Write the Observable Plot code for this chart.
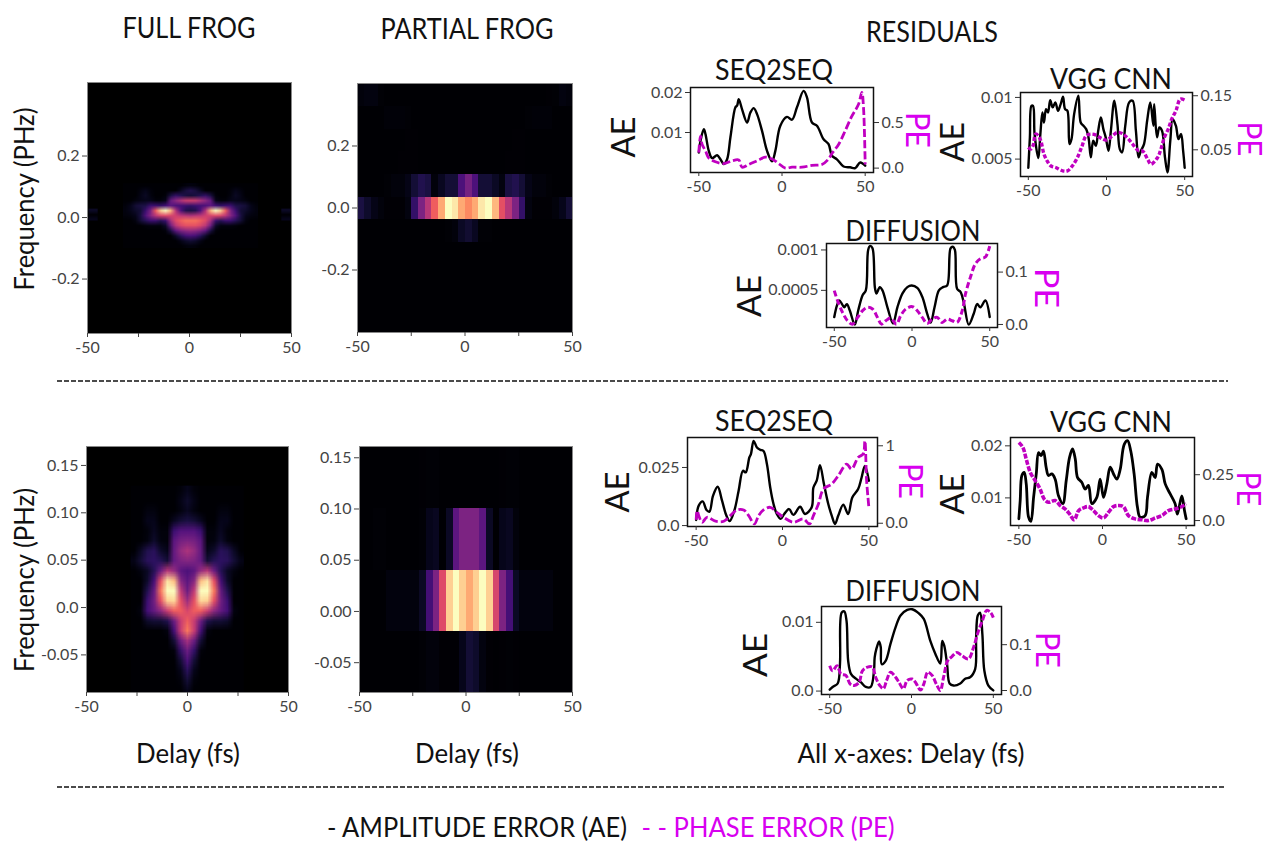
<!DOCTYPE html>
<html><head><meta charset="utf-8">
<style>html,body{margin:0;padding:0;background:#fff;width:1273px;height:844px;overflow:hidden}
#page{position:relative;width:1273px;height:844px}
#page>div,#page>svg{position:absolute}
</style>
<script src="https://cdn.jsdelivr.net/npm/d3@7"></script>
<script src="https://cdn.jsdelivr.net/npm/@observablehq/plot@0.6"></script>
</head><body><div id="page"></div>
<script>
// ---------- heat map grids (intensity 0..1, read row by row, top row first) ----------
const fullTopGrid = [
0,0,0,0,0,0,0,0,0,0,0,0,.02,.03,.02,0,0,0,0,0,0,0,0,0,0,0,0,
0,0,0,.03,.05,.02,0,0,0,0,0,.06,.11,.14,.11,.06,0,0,0,0,0,.02,.05,.03,0,0,0,
0,0,0,.04,.07,.03,0,0,.02,.12,.18,.15,.12,.1,.12,.15,.18,.12,.02,0,0,.03,.07,.04,0,0,0,
0,0,.03,.04,.05,.05,.02,.02,.05,.3,.4,.48,.55,.56,.55,.48,.4,.3,.05,.02,.02,.05,.05,.04,.03,0,0,
.02,.05,.1,.12,.13,.2,.2,.18,.22,.28,.24,.22,.2,.18,.2,.22,.24,.28,.22,.18,.2,.2,.13,.12,.1,.05,.02,
.03,.05,.08,.1,.2,.36,.66,.9,1,.85,.5,.25,.14,.12,.14,.25,.5,.85,1,.9,.66,.36,.2,.1,.08,.05,.03,
.02,.03,.05,.12,.25,.38,.5,.58,.6,.58,.56,.52,.5,.48,.5,.52,.56,.58,.6,.58,.5,.38,.25,.12,.05,.03,.02,
0,0,.03,.1,.15,.2,.2,.15,.2,.45,.6,.66,.7,.7,.7,.66,.6,.45,.2,.15,.2,.2,.15,.1,.03,0,0,
0,0,0,0,.02,.03,.03,.03,.08,.32,.5,.58,.62,.62,.62,.58,.5,.32,.08,.03,.03,.03,.02,0,0,0,0,
0,0,0,0,0,0,0,0,.02,.12,.28,.36,.4,.42,.4,.36,.28,.12,.02,0,0,0,0,0,0,0,0,
0,0,0,0,0,0,0,0,0,0,.08,.16,.22,.24,.22,.16,.08,0,0,0,0,0,0,0,0,0,0,
0,0,0,0,0,0,0,0,0,0,0,.04,.08,.1,.08,.04,0,0,0,0,0,0,0,0,0,0,0,
0,0,0,0,0,0,0,0,0,0,0,0,.02,.03,.02,0,0,0,0,0,0,0,0,0,0,0,0];
const fringeGrid = [.07,.07,0,0,.05,.05];
const partialTopGrid = [
.02,.03,.03,.01,0,0,0,0,0,0,0,0,0,0,0,0,0,0,0,0,0,0,0,0,0,0,0,0,.005,.01,.03,.02,
0,0,0,0,.015,.015,.015,.01,0,0,0,0,0,0,0,0,0,0,0,0,0,0,0,0,0,.01,.015,.015,.015,0,0,0,
0,0,0,0,0,0,0,.005,.005,0,0,0,0,0,0,0,0,0,0,0,0,0,0,.005,.005,0,0,0,0,0,0,0,
0,0,0,0,0,0,.005,.005,.005,0,0,0,0,0,0,0,0,0,0,0,0,0,.005,.005,.005,0,0,0,0,0,0,0,
0,0,0,0,.01,.02,.02,.04,.1,.14,.12,.02,.06,.1,.1,.24,.34,.24,.1,.1,.07,.03,.12,.14,.1,.04,.02,.02,.01,0,0,0,
.12,.08,.04,.02,.005,.005,.005,.03,.18,.36,.5,.66,.82,1,.95,.82,.75,.82,.95,1,.85,.62,.5,.36,.18,.03,.005,.005,.005,.02,.05,.1,
0,0,0,0,0,0,0,0,0,0,0,0,0,.01,.02,.07,.09,.06,.01,.01,0,0,0,0,0,0,0,0,0,0,0,0,
0,0,0,0,0,0,0,0,0,0,0,0,0,0,0,0,0,0,0,0,0,0,0,0,0,0,0,0,0,0,0,0,
0,0,0,0,0,0,0,0,0,0,0,0,0,0,0,0,0,0,0,0,0,0,0,0,0,0,0,0,0,0,0,0,
0,0,0,0,0,0,0,0,0,0,0,0,0,0,0,0,0,0,0,0,0,0,0,0,0,0,0,0,0,0,0,0,
0,0,0,0,0,0,0,0,0,0,0,0,0,0,0,0,0,0,0,0,0,0,0,0,0,0,0,0,0,0,0,0];
const fullBottomGrid = [
0,0,0,0,0,0,0,.02,.05,.02,0,0,0,0,0,0,0,
0,0,0,0,0,0,0,.04,.08,.04,0,0,0,0,0,0,0,
0,0,.03,.03,0,0,0,.03,.06,.03,0,0,0,.03,.03,0,0,
0,0,.05,.05,0,0,.06,.1,.12,.1,.06,0,0,.05,.05,0,0,
0,0,.02,.06,.02,.02,.2,.26,.26,.26,.2,.02,.02,.06,.02,0,0,
0,0,.03,.08,.03,.02,.28,.34,.36,.34,.28,.02,.03,.08,.03,0,0,
0,.07,.14,.16,.08,.05,.3,.42,.48,.42,.3,.05,.08,.16,.14,.07,0,
.04,.1,.16,.17,.15,.1,.3,.36,.38,.36,.3,.1,.15,.17,.16,.1,.04,
0,.03,.07,.15,.32,.5,.42,.28,.24,.28,.42,.5,.32,.15,.07,.03,0,
0,0,.08,.22,.62,.94,.86,.38,.28,.38,.86,.94,.62,.22,.08,0,0,
0,0,.14,.3,.72,1,1,.52,.32,.52,1,1,.72,.3,.14,0,0,
0,0,.2,.33,.62,.9,.92,.62,.44,.62,.92,.9,.62,.33,.2,0,0,
0,.03,.22,.3,.4,.55,.66,.66,.58,.66,.66,.55,.4,.3,.22,.03,0,
0,0,.08,.1,.1,.14,.32,.54,.66,.54,.32,.14,.1,.1,.08,0,0,
0,0,0,0,0,.03,.22,.54,.72,.54,.22,.03,0,0,0,0,0,
0,0,0,0,0,0,.1,.32,.46,.32,.1,0,0,0,0,0,0,
0,0,0,0,0,0,.02,.18,.32,.18,.02,0,0,0,0,0,0,
0,0,0,0,0,0,0,.1,.24,.1,0,0,0,0,0,0,0,
0,0,0,0,0,0,0,.05,.16,.05,0,0,0,0,0,0,0,
0,0,0,0,0,0,0,.02,.1,.02,0,0,0,0,0,0,0,
0,0,0,0,0,0,0,0,.05,0,0,0,0,0,0,0,0];
const partialBottomGrid = [
0,0,0,0,0,0,0,0,0,.005,.01,.01,0,0,0,0,0,0,0,0,0,.005,.01,.01,0,0,0,0,0,0,0,0,
0,0,.01,.01,0,0,0,0,0,.01,.05,.06,0,.07,.28,.36,.36,.36,.28,.07,0,.05,.06,.02,0,0,0,0,0,0,0,0,
0,0,0,0,.025,.025,.025,.025,.025,.07,.22,.36,.6,.9,1,.9,.82,.9,1,.9,.58,.36,.22,.07,.025,.025,.025,.025,.025,0,0,0,
0,0,0,0,0,0,0,0,0,.01,.02,.02,.005,.005,.005,.05,.1,.08,.03,.005,0,.005,.01,.005,0,0,0,0,0,0,0,0];

// ---------- residual curves: [SEQ2SEQ, VGG CNN, DIFFUSION] × [upper, lower] ----------
const seqTopAeX=[-50,-49,-47,-46,-44,-42,-39,-37,-35,-33,-31,-28,-27,-26,-24,-21,-19,-17,-15,-12,-9,-6,-4,-1,3,6,9,13,15,18,21,25,28,30,33,37,41,44,47,50];
const seqTopAe=[.005,.0079,.0108,.0096,.0054,.0036,.0043,.0033,.0021,.0033,.0088,.0163,.0167,.0183,.0158,.0125,.015,.0161,.0146,.0104,.0054,.0028,.0054,.0117,.0139,.0132,.0163,.0204,.0188,.0125,.0117,.0083,.0071,.0042,.0033,.0015,.0013,.0011,.0025,.0017];
const seqTopPeX=[-50,-49,-48,-46,-44,-40,-35,-30,-26,-24,-20,-15,-10,-6,-2,2,6,12,18,24,28,30,34,38,42,46,48,49,50];
const seqTopPe=[.17,.35,.26,.19,.11,.07,.05,.08,.09,.01,.04,.08,.12,.1,.05,0,.01,.01,.03,.04,.1,.16,.26,.41,.57,.7,.83,.66,.04];
const vggTopAeX=[-50,-49,-48,-47,-46,-43.6,-42.3,-41,-40,-38.7,-37.4,-36,-34.4,-32.7,-31,-29.3,-27.8,-26.5,-25,-23.7,-22.4,-20.7,-18,-16.5,-14.7,-13,-11.5,-10,-8.5,-6.8,-5.3,-3.6,-2,-.5,1.3,2.8,5,7,8.5,10,12,14.5,16.7,18.8,20.5,22,24,26,28,30,30.5,32.3,33.8,35.5,37.4,39,40.8,42.3,44.4,46,47.7,49,50];
const vggTopAe=[.0043,.00676,.00932,.00932,.00703,.00508,.00703,.00878,.00797,.00905,.00878,.00978,.00919,.0096,.00892,.00946,.01005,.00905,.00892,.00622,.00662,.00865,.01014,.00797,.0077,.00743,.00676,.00514,.00649,.00608,.0073,.00838,.00743,.00676,.00568,.0073,.00973,.00784,.00581,.00554,.0077,.0096,.00973,.0073,.00514,.00568,.00622,.00811,.0096,.0077,.00946,.00676,.00757,.0073,.00514,.00392,.00649,.00824,.0077,.00662,.00703,.00568,.0043];
const vggTopPeX=[-50,-48.5,-47,-45.3,-43.6,-42,-40,-38,-35.7,-32.5,-28,-25,-21.8,-18.6,-15.8,-13,-10,-6.8,-3.6,0,3.8,7,10,13.5,16.7,20,23,26.3,28.4,32.7,34.8,37,39.5,41.7,44.4,47.2,50];
const vggTopPe=[.0543,.0512,.0574,.079,.0759,.0667,.042,.0296,.0204,.0173,.0111,.0111,.0204,.0358,.0556,.0759,.079,.0772,.0716,.0679,.0759,.0821,.0802,.0716,.0605,.0494,.0481,.0327,.0235,.0358,.0512,.0728,.0883,.1068,.1222,.1438,.142];
const difTopAeX=[-50,-48.3,-46.8,-45,-43.6,-41.9,-40,-36.8,-34.6,-31.8,-29.7,-28.2,-26.9,-25.4,-23.9,-22.9,-20.7,-19,-15.8,-12.2,-9.4,-6.2,-3,-.2,3.4,6.6,9.8,12,14.5,17.3,19.9,22.6,24.8,26.3,27.6,29,31.2,33.3,36.5,39.7,41.9,44,47.2,50];
const difTopAe=[.00017,.00031,.000375,.00033,.00029,.00033,.00025,.000075,.00025,.00044,.0005,.001,.00105,.00102,.00054,.00046,.00054,.0005,.00029,.00009,.00029,.00046,.00054,.00056,.00053,.00042,.00021,.0001,.00029,.0005,.00054,.00056,.00102,.00104,.001,.00052,.00048,.00035,.000075,.00021,.00033,.00029,.000375,.00017];
const difTopPeX=[-50,-47.9,-44.7,-41.5,-38.2,-35,-31.8,-28.6,-25.4,-22.2,-19.7,-16.9,-13.7,-10,-7.3,-4,.2,3.4,6.6,9.8,13,16.2,19.4,22.6,25.9,29,32.3,34.4,37.6,40.8,44,47.2,50];
const difTopPe=[.0647,.0455,.0231,.0071,.0006,.0135,.0263,.0327,.0295,.0135,.0006,.0071,.0122,.0006,.0167,.0295,.034,.0263,.0135,.0019,.0103,.0135,.0038,.0103,.0071,.0038,.0263,.0583,.0904,.116,.1256,.1288,.1494];
const seqBotAeX=[-50,-48.5,-46.2,-44,-42.3,-40.2,-37.5,-35,-32.5,-30.6,-27.9,-25.4,-22.9,-21.3,-19.2,-18.3,-16.7,-14.8,-12.9,-11,-9,-7.1,-5.2,-3.3,-1,1,3.8,6.3,10.2,13,16.9,17.9,19.8,21.7,24,26.5,28.5,30.4,32.3,35.2,38,40.4,43.8,45.8,47.7,50];
const seqBotAe=[.0024,.0086,.0104,.0067,.006,.0129,.0167,.0107,.0043,.0019,.0064,.015,.0236,.0229,.0293,.0307,.0364,.0336,.0326,.0321,.0264,.0164,.0093,.005,.0029,.005,.0071,.0046,.0081,.005,.0079,.0164,.0193,.026,.0179,.0093,.0043,.0007,.0043,.009,.005,.0121,.0157,.0207,.0257,.0193];
const seqBotPeX=[-50,-49.4,-48.5,-46.5,-43.7,-38.8,-34,-30.2,-26.3,-22.5,-19.6,-16.3,-13.8,-11,-7.1,-3.3,.6,6.3,12.1,15.6,17.9,20.8,23.7,28.5,32.3,37.1,40,43.8,46.7,47.7,48.7,50];
const seqBotPe=[.043,.163,.099,.013,.077,.026,.026,.099,.172,.172,.099,-.009,.099,.172,.206,.142,.077,.013,.056,-.009,.099,.249,.442,.506,.614,.764,.7,.85,.893,1.064,.549,.206];
const vggBotAeX=[-50,-49.2,-48.2,-46.8,-45.6,-44.2,-42.8,-41.2,-39.6,-38.2,-36.7,-35.3,-33.7,-32.3,-30.3,-28.3,-26.3,-23.7,-21.7,-19.7,-17.9,-16.3,-14.9,-12.4,-10.4,-8.4,-6.4,-3.4,-1.4,.6,2.6,4.6,6.6,8.6,10.6,13,15,16.9,18.9,20.9,22.5,25.5,26.9,29.5,31.5,32.9,35.5,37.5,40.4,43.4,44.8,47.4,49,50];
const vggBotAe=[.006,.0095,.0143,.0149,.0127,.0063,.0055,.0101,.0146,.0187,.0181,.019,.0159,.0143,.0146,.0136,.0104,.0089,.0133,.0178,.0194,.0175,.0139,.013,.0117,.0124,.0089,.0101,.0136,.0101,.0127,.0159,.0146,.0136,.0155,.0203,.021,.019,.0146,.0082,.0063,.0066,.0101,.0149,.0139,.0165,.0155,.0127,.0108,.0089,.0069,.0104,.0076,.006];
const vggBotPeX=[-50,-47.6,-45.6,-43.2,-40.2,-37.3,-34.9,-32.3,-28.3,-25.3,-22.3,-19.7,-16.9,-14.3,-11.4,-8.4,-5.4,-2.4,.6,3.6,6.6,9.6,12.5,15.5,19.5,23.5,27.5,31.5,35.5,39.4,43.4,46.4,50];
const vggBotPe=[.426,.399,.335,.263,.217,.172,.118,.1,.109,.082,.063,.036,.004,.054,.069,.076,.054,.027,.014,.045,.076,.082,.076,.027,.009,.004,0,.014,.027,.054,.063,.072,.091];
const difBotAeX=[-50,-48.2,-45.1,-43.7,-42.7,-41.1,-39.7,-38.7,-37,-34,-31,-27.9,-24.9,-22.9,-22.5,-21.5,-19.8,-18.8,-18.2,-15.8,-12.8,-9.7,-6.7,-2.6,.4,4.5,7.5,11.5,14.6,17.6,18.8,20,21.7,23.3,25.7,29.8,32.8,35.8,38.9,39.5,40.5,41.9,43.3,44.5,47,50];
const difBotAe=[.0002,.0006,.0011,.004,.0114,.0116,.0102,.0044,.0025,.0018,.0013,.0006,.0006,.003,.0049,.0061,.0072,.0064,.0039,.0044,.0069,.0093,.011,.0118,.0119,.0113,.0105,.0073,.0054,.004,.0073,.0066,.004,.0011,.0008,.0011,.0018,.002,.0032,.0078,.011,.0114,.0083,.003,.0008,.0001];
const difBotPeX=[-50,-48.2,-45.5,-43.1,-40.1,-37.4,-35,-32,-30,-26.9,-23.9,-21.9,-19.4,-17.2,-15.2,-12.8,-9.7,-7.7,-5,-2.6,.4,2.4,5.5,7.5,9.9,12.6,15.2,17.6,19.6,22.1,24.7,27.7,30.8,34.8,37.9,40.9,43.3,46,48.4,50];
const difBotPe=[.054,.043,.054,.036,.033,.014,.011,.018,.043,.051,.051,.029,.011,.004,.022,.04,.029,.018,.004,.022,.025,.018,.001,.014,.04,.033,.014,0,.029,.065,.074,.083,.076,.069,.094,.13,.152,.175,.17,.159];

const AE_COLOR="#000", PE_COLOR="#c000c0", LABEL_PE="#d800f0", TICK="#444", FONT="Lato";
const page=document.getElementById("page");
function mount(plot,left,top){const d=document.createElement("div");d.style.left=left+"px";d.style.top=top+"px";d.appendChild(plot);page.appendChild(d);}
const hy=v=>String(v).replace("\u2212","-");

function heatPanel(p){
  const ml=52,mr=22,mt=12,mb=30;
  const raster=(grid,cols,rows,x1,x2,y1,y2,smooth)=>Plot.raster(grid,{fill:d=>d,width:cols,height:rows,x1,x2,y1,y2,clip:true,imageRendering:smooth?"auto":"pixelated"});
  const plot=Plot.plot({
    width:p.w+ml+mr,height:p.h+mt+mb,marginLeft:ml,marginRight:mr,marginTop:mt,marginBottom:mb,
    style:{fontFamily:FONT,fontSize:"16px",color:TICK,background:"transparent",maxWidth:"none"},
    x:{domain:[-50,50]},y:{domain:p.y},
    color:{type:"linear",scheme:"magma",domain:[0,1]},
    marks:[
      Plot.frame({fill:"#000",stroke:"none"}),
      raster(p.grid,p.cols,p.rows,p.x1,p.x2,p.y1,p.y2,p.smooth),
      p.fringe?raster(fringeGrid,2,3,-49.5,-45,.029,-.0098,true):null,
      p.fringe?raster(fringeGrid,2,3,45,49.5,.029,-.0098,true):null,
      Plot.frame({stroke:"#888",strokeWidth:1}),
      Plot.axisX({ticks:[-50,-25,0,25,50],tickFormat:d=>Math.abs(d)===25?"":hy(d),tickSize:4,tickPadding:4,label:null}),
      Plot.axisY({ticks:p.yTicks,tickFormat:(d,i)=>p.yLabels[i],tickSize:5,tickPadding:3,label:null})
    ]});
  mount(plot,p.left-ml,p.top-mt);
}
const topFreqTicks=[-.2,0,.2], topFreqLabels=["-0.2","0.0","0.2"];
const botFreqTicks=[-.05,0,.05,.1,.15];
heatPanel({left:87,top:82,w:204,h:251,y:[-.377,.439],yTicks:topFreqTicks,yLabels:topFreqLabels,grid:fullTopGrid,cols:27,rows:13,x1:-32.6,x2:33.6,y1:.1122,y2:-.0992,smooth:true,fringe:true});
heatPanel({left:357,top:83,w:215,h:249,y:[-.4016,.4016],yTicks:topFreqTicks,yLabels:topFreqLabels,grid:partialTopGrid,cols:32,rows:11,x1:-50,x2:50,y1:.4016,y2:-.4016});
heatPanel({left:86,top:446,w:202,h:246,y:[-.0897,.17],yTicks:botFreqTicks,yLabels:["-0.05","0.0","0.05","0.10","0.15"],grid:fullBottomGrid,cols:17,rows:21,x1:-28.2,x2:27.9,y1:.1287,y2:-.0928,smooth:true});
heatPanel({left:359,top:446,w:213,h:246,y:[-.0791,.161],yTicks:botFreqTicks,yLabels:["-0.05","0.00","0.05","0.10","0.15"],grid:partialBottomGrid,cols:32,rows:4,x1:-50,x2:50,y1:.161,y2:-.0791});

function linePanel(p){
  const ml=62,mr=62,mt=12,mb=30;
  const base={width:p.w+ml+mr,height:p.h+mt+mb,marginLeft:ml,marginRight:mr,marginTop:mt,marginBottom:mb,
    style:{fontFamily:FONT,fontSize:"16px",color:TICK,background:"transparent",maxWidth:"none"}};
  const ae=Plot.plot({...base,x:{domain:[-55,55]},y:{domain:p.aeDomain},marks:[
    Plot.line(p.aeX.map((x,i)=>({x,y:p.ae[i]})),{x:"x",y:"y",stroke:AE_COLOR,strokeWidth:p.aeWidth||2.4,curve:"catmull-rom",clip:true}),
    Plot.frame({stroke:"#111",strokeWidth:1.5}),
    Plot.axisX({ticks:[-50,0,50],tickFormat:hy,tickSize:4,tickPadding:4,label:null,stroke:"#333"}),
    Plot.axisY({ticks:p.aeTicks,tickFormat:(d,i)=>p.aeLabels[i],tickSize:5,tickPadding:3,label:null,stroke:"#333"})
  ]});
  const pe=Plot.plot({...base,x:{domain:[-55,55],axis:null},y:{domain:p.peDomain},marks:[
    Plot.line(p.peX.map((x,i)=>({x,y:p.pe[i]})),{x:"x",y:"y",stroke:PE_COLOR,strokeWidth:p.peWidth||2.8,strokeDasharray:p.dash||"8,3",strokeLinecap:"butt",curve:"catmull-rom",clip:true}),
    Plot.axisY({anchor:"right",ticks:p.peTicks,tickFormat:(d,i)=>p.peLabels[i],tickSize:5,tickPadding:3,label:null,stroke:"#333"})
  ]});
  mount(ae,p.left-ml,p.top-mt);mount(pe,p.left-ml,p.top-mt);
}
linePanel({left:690,top:87,w:183,h:85,aeDomain:[0,.02125],peDomain:[-.048,.884],aeX:seqTopAeX,ae:seqTopAe,peX:seqTopPeX,pe:seqTopPe,aeTicks:[.01,.02],aeLabels:["0.01","0.02"],peTicks:[0,.5],peLabels:["0.0","0.5"]});
linePanel({left:1020,top:92,w:172,h:84,aeDomain:[.00359,.0104],peDomain:[.0006,.156],aeX:vggTopAeX,ae:vggTopAe,peX:vggTopPeX,pe:vggTopPe,aeTicks:[.005,.01],aeLabels:["0.005","0.01"],peTicks:[.05,.15],peLabels:["0.05","0.15"],dash:"4,2",peWidth:3.4,aeWidth:2.4});
linePanel({left:826,top:243,w:171,h:84,aeDomain:[.00004,.00108],peDomain:[-.0058,.1546],aeX:difTopAeX,ae:difTopAe,peX:difTopPeX,pe:difTopPe,aeTicks:[.0005,.001],aeLabels:["0.0005","0.001"],peTicks:[0,.1],peLabels:["0.0","0.1"],dash:"6,3",peWidth:3});
linePanel({left:687,top:437,w:190,h:89,aeDomain:[-.0004,.0379],peDomain:[-.042,1.107],aeX:seqBotAeX,ae:seqBotAe,peX:seqBotPeX,pe:seqBotPe,aeTicks:[0,.025],aeLabels:["0.0","0.025"],peTicks:[0,1],peLabels:["0.0","1"]});
linePanel({left:1010,top:437,w:184,h:88,aeDomain:[.0047,.0216],peDomain:[-.027,.453],aeX:vggBotAeX,ae:vggBotAe,peX:vggBotPeX,pe:vggBotPe,aeTicks:[.01,.02],aeLabels:["0.01","0.02"],peTicks:[0,.25],peLabels:["0.0","0.25"],dash:"5,1.5",peWidth:3.6,aeWidth:2.8});
linePanel({left:821,top:606,w:180,h:88,aeDomain:[-.0005,.0123],peDomain:[-.0087,.1833],aeX:difBotAeX,ae:difBotAe,peX:difBotPeX,pe:difBotPe,aeTicks:[0,.01],aeLabels:["0.0","0.01"],peTicks:[0,.1],peLabels:["0.0","0.1"],dash:"6,2",peWidth:3});

// ---------- page text ----------
const labels=[
 ["FULL FROG",189,26,133,29,"#111",0],["PARTIAL FROG",467,27,173,29,"#111",0],["RESIDUALS",932,30,132,29,"#111",0],
 ["SEQ2SEQ",774,68,118,29,"#111",0],["VGG CNN",1111,77,122,29,"#111",0],["DIFFUSION",913,229,135,29,"#111",0],
 ["SEQ2SEQ",774,419,118,29,"#111",0],["VGG CNN",1111,420,122,29,"#111",0],["DIFFUSION",913,589,135,29,"#111",0],
 ["Frequency (PHz)",24,199,183,26,"#111",-90],["Frequency (PHz)",24,580,184,26,"#111",-90],
 ["Delay (fs)",188,753,104,26,"#111",0],["Delay (fs)",467,753,104,26,"#111",0],["All x-axes: Delay (fs)",911,753,227,26,"#111",0],
 ["AE",622,137,41,32,"#111",-90],["PE",918,130,36,32,LABEL_PE,90],
 ["AE",951,142,40,32,"#111",-90],["PE",1250,139,35,32,LABEL_PE,90],
 ["AE",748,296,42,32,"#111",-90],["PE",1047,288,40,32,LABEL_PE,90],
 ["AE",616,492,41,32,"#111",-90],["PE",911,481,36,32,LABEL_PE,90],
 ["AE",951,494,41,32,"#111",-90],["PE",1249,489,35,32,LABEL_PE,90],
 ["AE",754,655,44,32,"#111",-90],["PE",1048,650,36,32,LABEL_PE,90],
 ["- AMPLITUDE ERROR (AE)",477,827,300,26,"#111",0],["- - PHASE ERROR (PE)",768,827,253,26,LABEL_PE,0]
];
const overlay=d3.create("svg").attr("width",1273).attr("height",844).style("left",0).style("top",0).style("pointer-events","none");
for(const [x1,x2,y] of [[57,1228,381],[57,1225,787]]){
  overlay.append("line").attr("x1",x1).attr("x2",x2).attr("y1",y).attr("y2",y).attr("stroke","#111").attr("stroke-width",1.4).attr("stroke-dasharray","5,2");
}
for(const [s,x,y,len,size,color,rot] of labels){
  overlay.append("text").text(s).attr("transform",`translate(${x},${y}) rotate(${rot})`)
   .attr("text-anchor","middle").attr("dominant-baseline","central")
   .attr("font-family",FONT).attr("font-size",size).attr("fill",color)
   .attr("textLength",len).attr("lengthAdjust","spacingAndGlyphs");
}
page.appendChild(overlay.node());
</script></body></html>
